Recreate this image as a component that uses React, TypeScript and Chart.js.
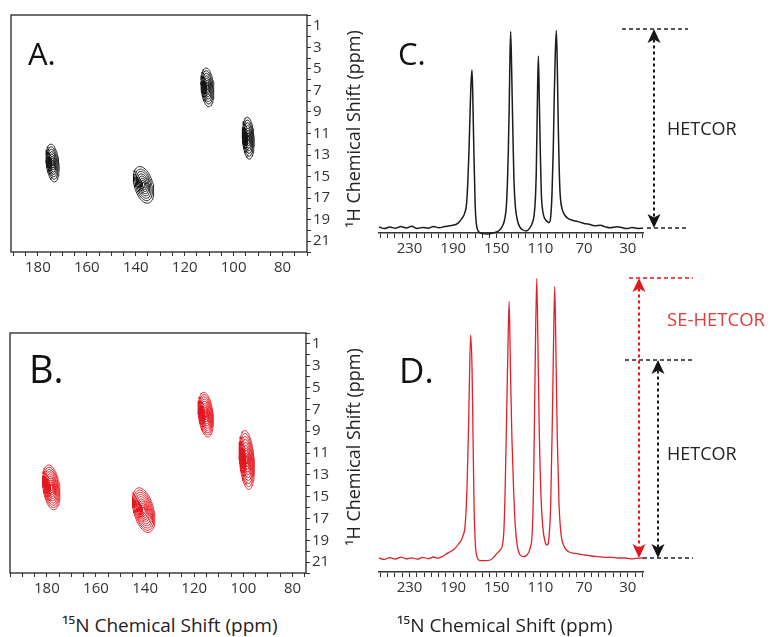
import React, { useEffect, useRef } from "react";
import { Chart, registerables } from "chart.js";
Chart.register(...registerables);

// ---------- 2D HETCOR (panel A, black) : 15N ppm, 1H ppm ----------
const hetcorPeakN = [174, 136.8, 110.7, 94];
const hetcorPeakH = [13.74, 15.77, 6.72, 11.43];
const hetcorHalfN = [2.6, 3.9, 2.6, 2.4];
const hetcorHalfH = [1.75, 1.7, 1.8, 1.95];
const hetcorTilt = [-0.4, -0.9, -0.3, -0.2];

// ---------- 2D SE-HETCOR (panel B, red) ----------
const sePeakN = [178.2, 140.6, 115.3, 98.6];
const sePeakH = [14.15, 16.24, 7.49, 11.64];
const seHalfN = [3.4, 4.2, 3.0, 3.0];
const seHalfH = [2.05, 2.05, 2.05, 2.7];
const seTilt = [-0.5, -0.9, -0.4, -0.3];

const hetcorLevels = [1, 0.86, 0.73, 0.6, 0.48, 0.36, 0.25, 0.14];
const seLevels = [1, 0.9, 0.8, 0.7, 0.6, 0.5, 0.41, 0.32, 0.23, 0.14];

// ---------- tick labels ----------
const protonTickLabels = [1, 3, 5, 7, 9, 11, 13, 15, 17, 19, 21];
const nitrogen2DTickLabels = [180, 160, 140, 120, 100, 80];
const nitrogen1DTickLabels = [230, 190, 150, 110, 70, 30];
const nitrogen1DMinorPerMajor = 6;

// ---------- 1D slice, HETCOR (panel C) ----------
const sliceCppm = [258, 253, 248, 243, 238, 233, 228, 223, 218, 213, 208, 203, 198, 191.7, 185.7, 182.0, 179.5, 177.7, 176.5, 175.6, 174.7, 173.8, 172.8, 172.2, 171.6, 171.0, 170.4, 169.8, 168.8, 167.3, 164.2, 158.1, 152.0, 147.4, 144.4, 142.6, 141.3, 140.4, 139.5, 138.6, 138.0, 137.3, 136.1, 135.2, 134.3, 133.0, 131.2, 129.1, 126.1, 123.0, 120.0, 117.6, 116.0, 114.7, 113.8, 113.2, 112.6, 111.9, 111.0, 110.1, 109.2, 108.0, 106.8, 105.2, 103.7, 102.2, 100.6, 99.4, 98.2, 97.3, 96.4, 95.4, 94.5, 93.6, 92.7, 91.8, 90.3, 87.8, 84.8, 81.7, 75.6, 70, 66.4, 60, 55, 51.1, 46, 40, 35.8, 31, 26, 20.6, 16];
const sliceCint = [3.0, 2.2, 3.0, 2.4, 3.2, 2.5, 3.4, 2.3, 2.8, 2.4, 3.3, 2.6, 3.2, 3.7, 4.8, 7.3, 9.8, 14.8, 26.5, 39.8, 56.5, 73, 81.5, 73, 56.5, 39.8, 26.5, 13.2, 4.8, 1.2, -0.2, -0.5, 0.2, 1.5, 4, 7.3, 13.2, 23.2, 39.8, 64.8, 86.5, 100.7, 73.2, 48.2, 26.5, 13.2, 6.5, 3.2, 1.5, 1.0, 2.3, 4.8, 8.2, 16.5, 31.5, 51.5, 73.2, 88.5, 64.8, 39.8, 19.8, 11.5, 8.2, 6.5, 5.7, 5.2, 8.2, 19.8, 43.2, 69.8, 89.8, 101.2, 81.5, 51.5, 29.8, 18.2, 12.3, 9, 7.3, 6.5, 5.7, 4.8, 4.5, 3.6, 3.9, 3.2, 2.6, 3.1, 2.8, 2.2, 2.7, 2.3, 2.4];

// ---------- 1D slice, SE-HETCOR (panel D) ----------
const sliceDppm = [258, 253, 248, 243, 238, 233, 228, 223, 218, 213, 208, 204, 200.1, 195.6, 189.5, 185.0, 181.3, 178.9, 177.3, 176.1, 175.2, 174.0, 172.7, 171.8, 170.9, 169.7, 168.2, 165.2, 160.6, 156.0, 153.0, 149.9, 146.9, 144.8, 143.5, 142.3, 141.1, 139.9, 138.7, 137.5, 136.2, 134.7, 133.2, 131.1, 128.6, 125.6, 122.5, 119.5, 117.4, 116.1, 114.9, 113.4, 112.2, 111.0, 109.5, 107.9, 105.8, 104.0, 102.1, 100.6, 99.1, 97.9, 96.9, 95.8, 94.6, 93.0, 91.2, 88.2, 84.5, 78.4, 69.3, 63, 57.1, 51, 44.9, 39, 32.7, 27, 22.0, 16];
const sliceDint = [7.0, 6.3, 7.2, 6.5, 7.4, 6.6, 7.1, 6.4, 7.3, 6.7, 7.5, 6.9, 7.7, 9.3, 11.3, 14, 17.7, 24.3, 42.7, 67.7, 92.7, 118.5, 101, 67.7, 34.3, 14.3, 7.7, 5.7, 5.7, 6, 7.3, 9.3, 11, 13.5, 21, 42.7, 76, 109.3, 135.2, 101, 67.7, 42.7, 24.3, 12.7, 8.5, 7.7, 8.5, 11.8, 21, 51, 101, 146.8, 109.3, 67.7, 37.7, 22.7, 15.2, 13.5, 17.7, 34.3, 76, 117.7, 142.7, 109.3, 67.7, 34.3, 19.3, 12.7, 10.2, 9.3, 8.5, 8.0, 7.7, 7.3, 7.3, 7.0, 7, 6.6, 6.8, 7.0];

// ---------- intensity levels for the arrows ----------
const baselineC = 2.5;
const hetcorMaxC = 102;
const baselineD = 7;
const hetcorMaxD = 106;
const seHetcorMaxD = 147;

const FONT = "'Open Sans', 'DejaVu Sans', sans-serif";
const BLACK = "#151515";
const RED = "#e3161e";
const TICK = "#333";

function ring(cx: number, cy: number, wx: number, wy: number, tilt: number, k: number) {
  const pts: { x: number; y: number }[] = [];
  const n = 48;
  for (let i = 0; i <= n; i++) {
    const t = (i / n) * Math.PI * 2;
    const dy = wy * k * Math.sin(t);
    pts.push({ x: cx + wx * k * Math.cos(t) + tilt * dy, y: cy + dy });
  }
  return pts;
}

function contourDatasets(N: number[], H: number[], wN: number[], wH: number[], tilt: number[], levels: number[], color: string) {
  const ds: any[] = [];
  N.forEach((cx, i) => {
    levels.forEach((k) => {
      ds.push({
        data: ring(cx, H[i], wN[i], wH[i], tilt[i], k),
        showLine: true,
        borderColor: color,
        borderWidth: 0.9,
        pointRadius: 0,
        fill: false,
        tension: 0,
      });
    });
  });
  return ds;
}

const framePlugin = {
  id: "frame",
  afterDraw(chart: any) {
    const { ctx, chartArea } = chart;
    const { left, top, right, bottom } = chartArea;
    ctx.save();
    ctx.strokeStyle = "#222";
    ctx.lineWidth = 1.3;
    ctx.strokeRect(left, top, right - left, bottom - top);
    ctx.restore();
  },
};

function make2D(datasets: any[], xMin: number, xMax: number, xHeight: number, padding: any) {
  return {
    type: "scatter",
    data: { datasets },
    plugins: [framePlugin],
    options: {
      animation: false,
      responsive: false,
      events: [],
      layout: { padding },
      plugins: { legend: { display: false }, tooltip: { enabled: false } },
      scales: {
        x: {
          type: "linear",
          reverse: true,
          min: xMin,
          max: xMax,
          position: "bottom",
          border: { display: false },
          grid: { drawOnChartArea: false, drawTicks: true, tickLength: 4, color: "#333", lineWidth: 1 },
          ticks: {
            stepSize: 5,
            includeBounds: false,
            autoSkip: false,
            maxRotation: 0,
            padding: 3,
            color: TICK,
            font: { family: FONT, size: 15 },
            callback: (v: any) => (nitrogen2DTickLabels.includes(Number(v)) ? String(v) : ""),
          },
          afterFit: (s: any) => {
            s.height = xHeight;
          },
        },
        y: {
          type: "linear",
          reverse: true,
          min: 0,
          max: 22,
          position: "right",
          border: { display: false },
          grid: { drawOnChartArea: false, drawTicks: true, tickLength: 4, color: "#333", lineWidth: 1 },
          ticks: {
            stepSize: 1,
            includeBounds: false,
            autoSkip: false,
            padding: 2,
            color: TICK,
            font: { family: FONT, size: 15 },
            callback: (v: any) => (protonTickLabels.includes(Number(v)) ? String(v) : ""),
          },
          afterFit: (s: any) => {
            s.width = 40;
          },
        },
      },
    },
  };
}

type ArrowSpec = { dx: number; from: number; to: number; color: string };
type DashSpec = { value: number; dx1: number; dx2: number; color: string };

function arrowPlugin(arrows: ArrowSpec[], dashes: DashSpec[]) {
  return {
    id: "arrows",
    afterDraw(chart: any) {
      const { ctx, chartArea, scales } = chart;
      const y = scales.y;
      const R = chartArea.right;
      ctx.save();
      dashes.forEach((d) => {
        const py = y.getPixelForValue(d.value);
        ctx.strokeStyle = d.color;
        ctx.lineWidth = 1.5;
        ctx.setLineDash([4, 3]);
        ctx.beginPath();
        ctx.moveTo(R + d.dx1, py);
        ctx.lineTo(R + d.dx2, py);
        ctx.stroke();
      });
      arrows.forEach((a) => {
        const x = R + a.dx;
        const yTop = y.getPixelForValue(a.to);
        const yBot = y.getPixelForValue(a.from);
        const L = 14;
        const W = 6.5;
        const notch = 3.5;
        ctx.strokeStyle = a.color;
        ctx.fillStyle = a.color;
        ctx.lineWidth = 2;
        ctx.setLineDash([3, 3]);
        ctx.beginPath();
        ctx.moveTo(x, yTop + L - notch);
        ctx.lineTo(x, yBot - L + notch);
        ctx.stroke();
        ctx.setLineDash([]);
        ctx.beginPath();
        ctx.moveTo(x, yTop);
        ctx.lineTo(x - W, yTop + L);
        ctx.lineTo(x, yTop + L - notch);
        ctx.lineTo(x + W, yTop + L);
        ctx.closePath();
        ctx.fill();
        ctx.beginPath();
        ctx.moveTo(x, yBot);
        ctx.lineTo(x - W, yBot - L);
        ctx.lineTo(x, yBot - L + notch);
        ctx.lineTo(x + W, yBot - L);
        ctx.closePath();
        ctx.fill();
      });
      ctx.restore();
    },
  };
}

function isLabel1D(v: number) {
  return nitrogen1DTickLabels.some((t) => Math.abs(t - v) < 1e-6);
}

function make1D(ppm: number[], inten: number[], color: string, width: number, yMax: number, xHeight: number, padding: any, plugin: any) {
  return {
    type: "scatter",
    data: {
      datasets: [
        {
          data: ppm.map((x, i) => ({ x, y: inten[i] })),
          showLine: true,
          borderColor: color,
          borderWidth: width,
          pointRadius: 0,
          cubicInterpolationMode: "monotone",
          fill: false,
          clip: 8,
        },
      ],
    },
    plugins: [plugin],
    options: {
      animation: false,
      responsive: false,
      events: [],
      layout: { padding },
      plugins: { legend: { display: false }, tooltip: { enabled: false } },
      scales: {
        x: {
          type: "linear",
          reverse: true,
          min: 16,
          max: 258,
          position: "bottom",
          border: { display: true, color: "#333", width: 1.5 },
          grid: { drawOnChartArea: false, drawTicks: true, tickLength: 5, color: "#333", lineWidth: 1 },
          ticks: {
            autoSkip: false,
            maxRotation: 0,
            padding: 2,
            color: TICK,
            font: { family: FONT, size: 15 },
            callback: (v: any) => (isLabel1D(Number(v)) ? String(Math.round(Number(v))) : ""),
          },
          afterBuildTicks: (s: any) => {
            const major = nitrogen1DTickLabels[0] - nitrogen1DTickLabels[1];
            const step = major / nitrogen1DMinorPerMajor;
            const base = nitrogen1DTickLabels[nitrogen1DTickLabels.length - 1];
            const ticks: { value: number }[] = [];
            for (let k = -10; k <= 60; k++) {
              const v = base + k * step;
              if (v >= s.min && v <= s.max) ticks.push({ value: Math.abs(v - Math.round(v)) < 1e-6 ? Math.round(v) : v });
            }
            s.ticks = ticks;
          },
          afterFit: (s: any) => {
            s.height = xHeight;
          },
        },
        y: { type: "linear", display: false, min: 0, max: yMax },
      },
    },
  };
}

function ChartBox({ left, top, width, height, make }: { left: number; top: number; width: number; height: number; make: () => any }) {
  const ref = useRef<HTMLCanvasElement>(null);
  useEffect(() => {
    const c = new Chart(ref.current as HTMLCanvasElement, make());
    return () => c.destroy();
  }, []);
  return <canvas ref={ref} width={width} height={height} style={{ position: "absolute", left, top, width, height }} />;
}

function Label({ text, left, top, size, color = "#111" }: { text: string; left: number; top: number; size: number; color?: string }) {
  return (
    <div style={{ position: "absolute", left, top, fontSize: size, lineHeight: 1, color, fontFamily: FONT, whiteSpace: "nowrap" }}>
      {text}
    </div>
  );
}

function VTitle({ text, cx, cy }: { text: string; cx: number; cy: number }) {
  return (
    <div
      style={{
        position: "absolute",
        left: cx,
        top: cy,
        transform: "translate(-50%, -50%) rotate(-90deg)",
        fontSize: 18,
        lineHeight: 1,
        color: "#222",
        fontFamily: FONT,
        whiteSpace: "nowrap",
      }}
    >
      {text}
    </div>
  );
}

export default function App() {
  return (
    <div style={{ position: "absolute", left: 0, top: 0, width: 771, height: 637, background: "#fff", overflow: "hidden" }}>
      <ChartBox
        left={0}
        top={0}
        width={350}
        height={290}
        make={() =>
          make2D(
            contourDatasets(hetcorPeakN, hetcorPeakH, hetcorHalfN, hetcorHalfH, hetcorTilt, hetcorLevels, BLACK),
            70,
            191,
            35,
            { left: 11, top: 15, right: 3, bottom: 3 }
          )
        }
      />
      <ChartBox
        left={0}
        top={300}
        width={350}
        height={310}
        make={() =>
          make2D(
            contourDatasets(sePeakN, sePeakH, seHalfN, seHalfH, seTilt, seLevels, RED),
            74.5,
            195,
            35,
            { left: 10, top: 33, right: 4, bottom: 2 }
          )
        }
      />
      <ChartBox
        left={370}
        top={0}
        width={330}
        height={275}
        make={() =>
          make1D(
            sliceCppm,
            sliceCint,
            "#1c1c1c",
            1.5,
            110,
            30,
            { left: 9, right: 57, top: 13, bottom: 12 },
            arrowPlugin(
              [{ dx: 11, from: baselineC, to: hetcorMaxC, color: BLACK }],
              [
                { value: hetcorMaxC, dx1: -21, dx2: 45, color: "#222" },
                { value: baselineC, dx1: 4, dx2: 45, color: "#222" },
              ]
            )
          )
        }
      />
      <ChartBox
        left={370}
        top={245}
        width={330}
        height={365}
        make={() =>
          make1D(
            sliceDppm,
            sliceDint,
            "#e3202a",
            1.3,
            160,
            36,
            { left: 9, right: 57, top: 7, bottom: 2 },
            arrowPlugin(
              [
                { dx: -4, from: baselineD, to: seHetcorMaxD, color: RED },
                { dx: 15, from: baselineD, to: hetcorMaxD, color: BLACK },
              ],
              [
                { value: seHetcorMaxD, dx1: -14, dx2: 50, color: RED },
                { value: hetcorMaxD, dx1: -18, dx2: 50, color: "#222" },
                { value: baselineD, dx1: 0, dx2: 50, color: "#222" },
              ]
            )
          )
        }
      />
      <Label text="A." left={28} top={38} size={31} />
      <Label text="B." left={29} top={349} size={38} />
      <Label text="C." left={398} top={38} size={31} />
      <Label text="D." left={399} top={352} size={35} />
      <Label text="HETCOR" left={667} top={119} size={18} color="#222" />
      <Label text="SE-HETCOR" left={667} top={310} size={18.5} color="#e33b3b" />
      <Label text="HETCOR" left={667} top={444} size={18} color="#222" />
      <Label text="¹⁵N Chemical Shift (ppm)" left={62} top={616} size={19} color="#222" />
      <Label text="¹⁵N Chemical Shift (ppm)" left={397} top={616} size={19} color="#222" />
      <VTitle text="¹H Chemical Shift (ppm)" cx={353} cy={129} />
      <VTitle text="¹H Chemical Shift (ppm)" cx={353} cy={447} />
    </div>
  );
}
